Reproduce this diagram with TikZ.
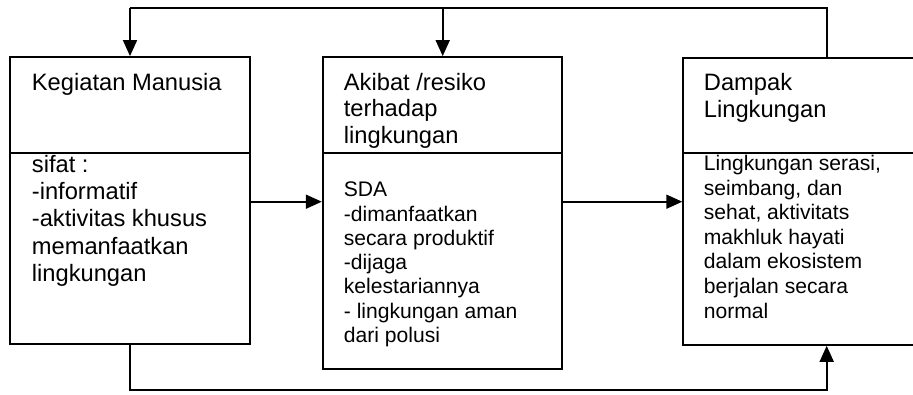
\documentclass[tikz,border=0pt]{standalone}
\usepackage{fontspec}
\setmainfont{Liberation Sans}
\usetikzlibrary{arrows.meta}
\newcommand\fntA{\fontsize{23.7}{26.7}\selectfont}
\newcommand\fntB{\fontsize{21.1}{24.5}\selectfont}
\newcommand\txtstack[2]{\vtop{\baselineskip=#1\lineskiplimit=-30pt\relax\halign{##\hfil\cr#2\crcr}}}
\begin{document}
\begin{tikzpicture}[x=1pt,y=-1pt,line width=1.8pt,
  >={Triangle[length=16pt,width=14pt]},
  box/.style={draw,rectangle,inner sep=0pt},
  txt/.style={anchor=base west,inner sep=0pt}]
\path[use as bounding box] (0,0) rectangle (913,394);
\clip (0,0) rectangle (913,394);
\fill[white] (0,0) rectangle (913,394);
% boxes
\node[box,minimum width=240pt,minimum height=287pt] (b1) at (130,200.5) {};
\node[box,minimum width=239.6pt,minimum height=312pt] (b2) at (442.5,213) {};
\node[box,minimum width=260pt,minimum height=287pt,anchor=north west] (b3) at (682.3,57) {};
% dividers
\coordinate (dv) at (0,153);
\draw (b1.west |- dv) -- (b1.east |- dv);
\draw (b2.west |- dv) -- (b2.east |- dv);
\draw (b3.west |- dv) -- (b3.east |- dv);
% connectors
\coordinate (tl) at (130,8.3);
\coordinate (tm) at (442.7,8.3);
\coordinate (tr) at (826.7,8.3);
\coordinate (bl) at (130,390);
\coordinate (br) at (826.7,390);
\coordinate (mid) at (0,201.7);
\draw (tr |- b3.north) -- (tr) -- (tl);
\draw[->] (tl) -- (b1.north);
\draw[->] (tm) -- (tm |- b2.north);
\draw[->] (b1.south) -- (bl) -- (br) -- (br |- b3.south);
\draw[->] (b1.east |- mid) -- (b2.west |- mid);
\draw[->] (b2.east |- mid) -- (b3.west |- mid);
% texts
\node[txt,font=\fntA] (h1) at (31,90) {Kegiatan Manusia};
\node[txt,font=\fntA] (s1) at (31,172.5) {\txtstack{27.2pt}{sifat :\cr -informatif\cr -aktivitas khusus\cr memanfaatkan\cr lingkungan}};
\node[txt,font=\fntA] (h2) at (343,90) {\txtstack{26.7pt}{Akibat /resiko\cr terhadap\cr lingkungan}};
\node[txt,font=\fntB] (s2) at (343,196.8) {\txtstack{24.25pt}{SDA\cr -dimanfaatkan\cr secara produktif\cr -dijaga\cr kelestariannya\cr - lingkungan aman\cr dari polusi}};
\node[txt,font=\fntA] (h3) at (703,90.7) {\txtstack{26.7pt}{Dampak\cr Lingkungan}};
\node[txt,font=\fntB] (s3) at (703,170.5) {\txtstack{24.6pt}{Lingkungan serasi,\cr seimbang, dan\cr sehat, aktivitats\cr makhluk hayati\cr dalam ekosistem\cr berjalan secara\cr normal}};
\end{tikzpicture}
\end{document}
